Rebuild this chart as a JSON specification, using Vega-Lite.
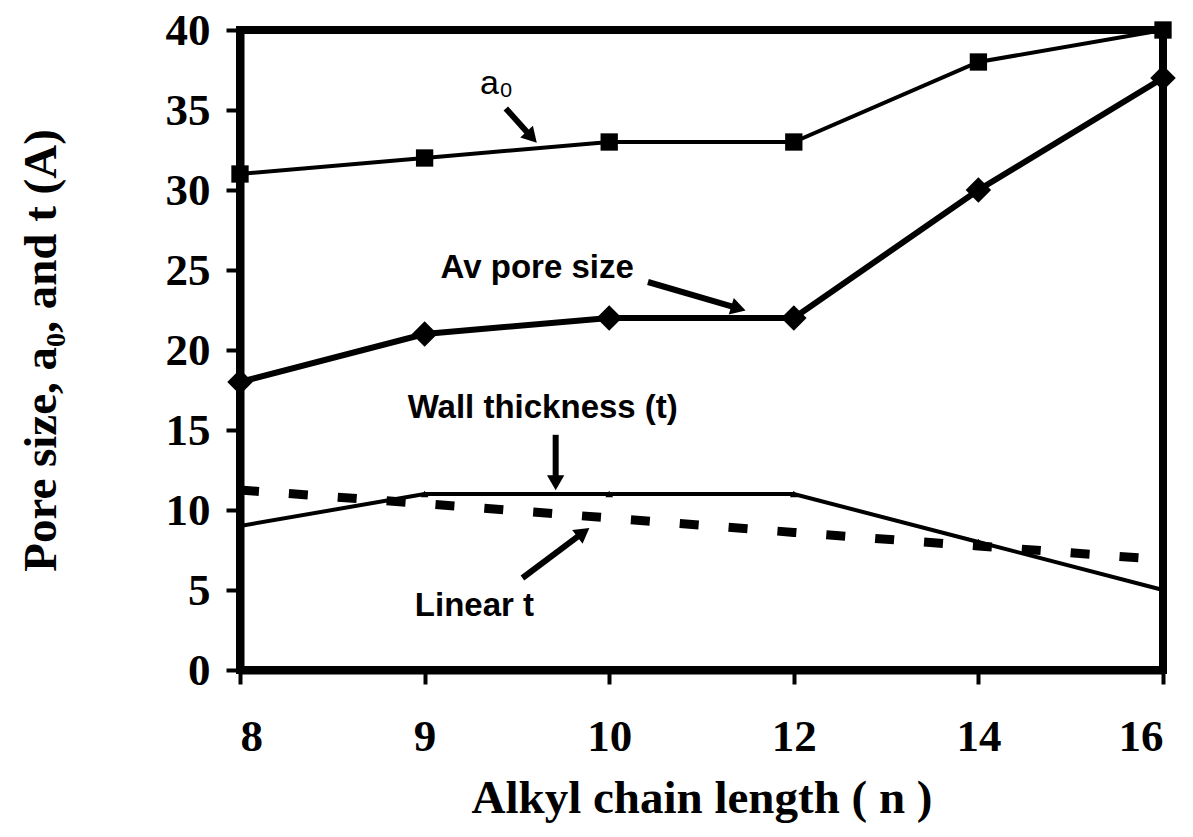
{
  "$schema": "https://vega.github.io/schema/vega-lite/v6.json",
  "width": 923,
  "height": 640,
  "autosize": "none",
  "padding": {"left": 240, "top": 30, "right": 30, "bottom": 167},
  "background": "white",
  "config": {
    "view": {"stroke": "black", "strokeWidth": 8},
    "axis": {
      "grid": false,
      "domainColor": "black",
      "domainWidth": 8,
      "tickColor": "black",
      "tickWidth": 4,
      "tickSize": 14,
      "labelFont": "Liberation Serif",
      "labelFontWeight": "bold",
      "labelFontSize": 45,
      "labelColor": "black",
      "titleFont": "Liberation Serif",
      "titleFontWeight": "bold",
      "titleFontSize": 47,
      "titleColor": "black"
    }
  },
  "datasets": {
    "series": [
      {"i": 0, "n": 8, "series": "a0", "value": 31},
      {"i": 1, "n": 9, "series": "a0", "value": 32},
      {"i": 2, "n": 10, "series": "a0", "value": 33},
      {"i": 3, "n": 12, "series": "a0", "value": 33},
      {"i": 4, "n": 14, "series": "a0", "value": 38},
      {"i": 5, "n": 16, "series": "a0", "value": 40},
      {"i": 0, "n": 8, "series": "Av pore size", "value": 18},
      {"i": 1, "n": 9, "series": "Av pore size", "value": 21},
      {"i": 2, "n": 10, "series": "Av pore size", "value": 22},
      {"i": 3, "n": 12, "series": "Av pore size", "value": 22},
      {"i": 4, "n": 14, "series": "Av pore size", "value": 30},
      {"i": 5, "n": 16, "series": "Av pore size", "value": 37},
      {"i": 0, "n": 8, "series": "Wall thickness", "value": 9},
      {"i": 1, "n": 9, "series": "Wall thickness", "value": 11},
      {"i": 2, "n": 10, "series": "Wall thickness", "value": 11},
      {"i": 3, "n": 12, "series": "Wall thickness", "value": 11},
      {"i": 4, "n": 14, "series": "Wall thickness", "value": 8},
      {"i": 5, "n": 16, "series": "Wall thickness", "value": 5},
      {"i": 0, "n": 8, "series": "Linear t", "value": 11.25},
      {"i": 1, "n": 9, "series": "Linear t", "value": 10.4},
      {"i": 2, "n": 10, "series": "Linear t", "value": 9.5},
      {"i": 3, "n": 12, "series": "Linear t", "value": 8.6},
      {"i": 4, "n": 14, "series": "Linear t", "value": 7.75},
      {"i": 5, "n": 16, "series": "Linear t", "value": 6.9}
    ],
    "notes": [
      {"label": "a₀", "x": 1.39, "y": 36.6},
      {"label": "Av pore size", "x": 1.61, "y": 25.1},
      {"label": "Wall thickness (t)", "x": 1.64, "y": 16.4},
      {"label": "Linear t", "x": 1.27, "y": 4.0}
    ],
    "arrows": [
      {"label": "a0", "x": 1.44, "y": 35.1, "x2": 1.58, "y2": 33.3},
      {"label": "Av pore size", "x": 2.21, "y": 24.25, "x2": 2.70, "y2": 22.6},
      {"label": "Wall thickness", "x": 1.71, "y": 14.7, "x2": 1.71, "y2": 11.7},
      {"label": "Linear t", "x": 1.53, "y": 5.75, "x2": 1.86, "y2": 8.6}
    ]
  },
  "layer": [
    {
      "data": {"name": "series"},
      "transform": [{"filter": "datum.series === 'Linear t'"}],
      "mark": {"type": "line", "color": "black", "strokeWidth": 9, "strokeDash": [19, 30], "strokeCap": "butt"},
      "encoding": {
        "x": {"field": "i", "type": "quantitative", "scale": {"domain": [0, 5], "nice": false}, "axis": {"values": [0, 1, 2, 3, 4, 5], "labelExpr": "['8','9','10','12','14','16'][datum.value]", "title": "Alkyl chain length ( n )", "labelPadding": 30, "titlePadding": 16}},
        "y": {"field": "value", "type": "quantitative", "scale": {"domain": [0, 40], "nice": false}, "axis": {"values": [0, 5, 10, 15, 20, 25, 30, 35, 40], "title": "Pore size, a₀, and t (A)", "labelPadding": 16, "titlePadding": 100}}
      }
    },
    {
      "data": {"name": "series"},
      "transform": [{"filter": "datum.series === 'Wall thickness'"}],
      "mark": {"type": "line", "color": "black", "strokeWidth": 4, "point": {"shape": "triangle-up", "size": 60, "filled": true, "color": "black"}},
      "encoding": {
        "x": {"field": "i", "type": "quantitative"},
        "y": {"field": "value", "type": "quantitative"}
      }
    },
    {
      "data": {"name": "series"},
      "transform": [{"filter": "datum.series === 'a0'"}],
      "mark": {"type": "line", "color": "black", "strokeWidth": 4, "point": {"shape": "square", "size": 300, "filled": true, "color": "black"}},
      "encoding": {
        "x": {"field": "i", "type": "quantitative"},
        "y": {"field": "value", "type": "quantitative"}
      }
    },
    {
      "data": {"name": "series"},
      "transform": [{"filter": "datum.series === 'Av pore size'"}],
      "mark": {"type": "line", "color": "black", "strokeWidth": 6, "point": {"shape": "diamond", "size": 650, "filled": true, "color": "black"}},
      "encoding": {
        "x": {"field": "i", "type": "quantitative"},
        "y": {"field": "value", "type": "quantitative"}
      }
    },
    {
      "data": {"name": "notes"},
      "transform": [{"filter": "datum.label === 'a₀'"}],
      "mark": {"type": "text", "font": "Liberation Sans", "fontSize": 34, "color": "black"},
      "encoding": {
        "x": {"field": "x", "type": "quantitative"},
        "y": {"field": "y", "type": "quantitative"},
        "text": {"field": "label"}
      }
    },
    {
      "data": {"name": "notes"},
      "transform": [{"filter": "datum.label !== 'a₀'"}],
      "mark": {"type": "text", "font": "Liberation Sans", "fontWeight": "bold", "fontSize": 33, "color": "black"},
      "encoding": {
        "x": {"field": "x", "type": "quantitative"},
        "y": {"field": "y", "type": "quantitative"},
        "text": {"field": "label"}
      }
    },
    {
      "data": {"name": "arrows"},
      "mark": {"type": "rule", "color": "black", "strokeWidth": 6},
      "encoding": {
        "x": {"field": "x", "type": "quantitative"},
        "y": {"field": "y", "type": "quantitative"},
        "x2": {"field": "x2"},
        "y2": {"field": "y2"}
      }
    },
    {
      "data": {"name": "arrows"},
      "transform": [{"filter": "datum.label === 'a0'"}],
      "mark": {"type": "point", "shape": "triangle-up", "filled": true, "color": "black", "size": 300, "angle": 137, "opacity": 1},
      "encoding": {"x": {"field": "x2", "type": "quantitative"}, "y": {"field": "y2", "type": "quantitative"}}
    },
    {
      "data": {"name": "arrows"},
      "transform": [{"filter": "datum.label === 'Av pore size'"}],
      "mark": {"type": "point", "shape": "triangle-up", "filled": true, "color": "black", "size": 300, "angle": 107, "opacity": 1},
      "encoding": {"x": {"field": "x2", "type": "quantitative"}, "y": {"field": "y2", "type": "quantitative"}}
    },
    {
      "data": {"name": "arrows"},
      "transform": [{"filter": "datum.label === 'Wall thickness'"}],
      "mark": {"type": "point", "shape": "triangle-up", "filled": true, "color": "black", "size": 300, "angle": 180, "opacity": 1},
      "encoding": {"x": {"field": "x2", "type": "quantitative"}, "y": {"field": "y2", "type": "quantitative"}}
    },
    {
      "data": {"name": "arrows"},
      "transform": [{"filter": "datum.label === 'Linear t'"}],
      "mark": {"type": "point", "shape": "triangle-up", "filled": true, "color": "black", "size": 300, "angle": 53, "opacity": 1},
      "encoding": {"x": {"field": "x2", "type": "quantitative"}, "y": {"field": "y2", "type": "quantitative"}}
    }
  ]
}
